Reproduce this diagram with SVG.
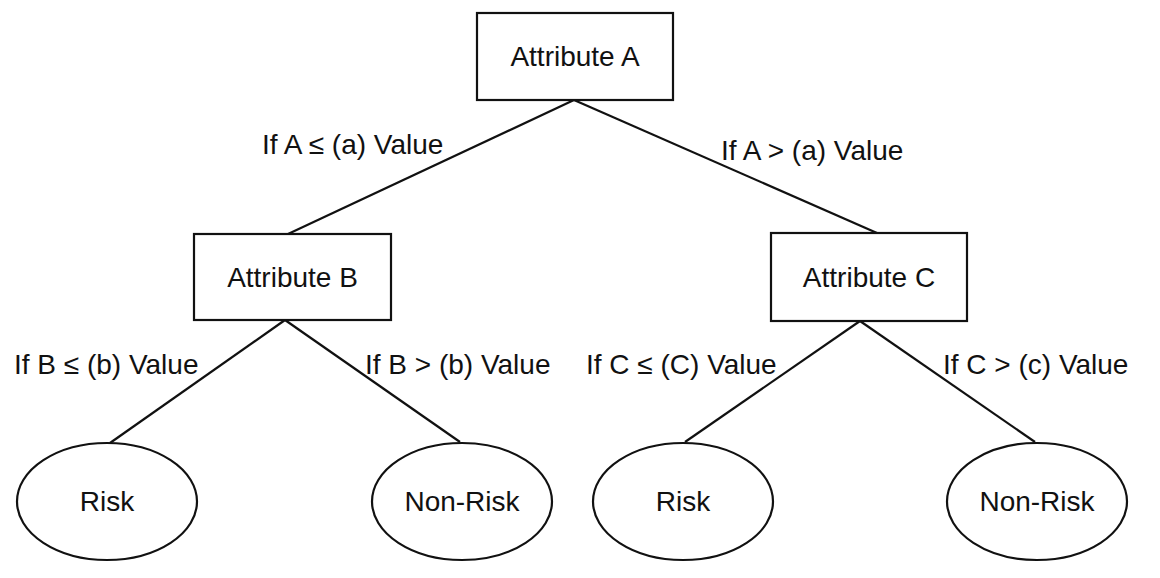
<svg xmlns="http://www.w3.org/2000/svg" width="1160" height="578" viewBox="0 0 1160 578">
<style>
.n{fill:#fff;stroke:#111;stroke-width:2.2}
.c{stroke:#111;stroke-width:2.2;fill:none}
text{font-family:"Liberation Sans",Arial,sans-serif;font-size:28px;fill:#111}
.m{text-anchor:middle}
</style>
<rect width="1160" height="578" fill="#fff"/>
<g id="connectors">
<line class="c" x1="574" y1="100" x2="288" y2="234"/>
<line class="c" x1="574" y1="100" x2="877" y2="233"/>
<line class="c" x1="285" y1="320" x2="110" y2="443"/>
<line class="c" x1="285" y1="320" x2="460" y2="442"/>
<line class="c" x1="860" y1="321" x2="685" y2="442"/>
<line class="c" x1="860" y1="321" x2="1035" y2="442"/>
</g>
<g id="labels">
<text x="262" y="154">If A ≤ (a) Value</text>
<text x="721" y="160">If A &gt; (a) Value</text>
<text x="14" y="374">If B ≤ (b) Value</text>
<text x="365" y="374">If B &gt; (b) Value</text>
<text x="586" y="374">If C ≤ (C) Value</text>
<text x="943" y="374">If C &gt; (c) Value</text>
</g>
<g id="nodeA"><rect class="n" x="477" y="13" width="196" height="87"/><text class="m" x="575" y="66">Attribute A</text></g>
<g id="nodeB"><rect class="n" x="194" y="234" width="197" height="86"/><text class="m" x="292.5" y="287">Attribute B</text></g>
<g id="nodeC"><rect class="n" x="771" y="233" width="196" height="88"/><text class="m" x="869" y="287">Attribute C</text></g>
<g id="leaf1"><ellipse class="n" cx="107" cy="501.5" rx="90" ry="58.5"/><text class="m" x="107" y="511">Risk</text></g>
<g id="leaf2"><ellipse class="n" cx="462" cy="501.5" rx="90" ry="58.5"/><text class="m" x="462" y="511">Non-Risk</text></g>
<g id="leaf3"><ellipse class="n" cx="683" cy="501.5" rx="90" ry="58.5"/><text class="m" x="683" y="511">Risk</text></g>
<g id="leaf4"><ellipse class="n" cx="1037" cy="501.5" rx="90" ry="58.5"/><text class="m" x="1037" y="511">Non-Risk</text></g>
</svg>
